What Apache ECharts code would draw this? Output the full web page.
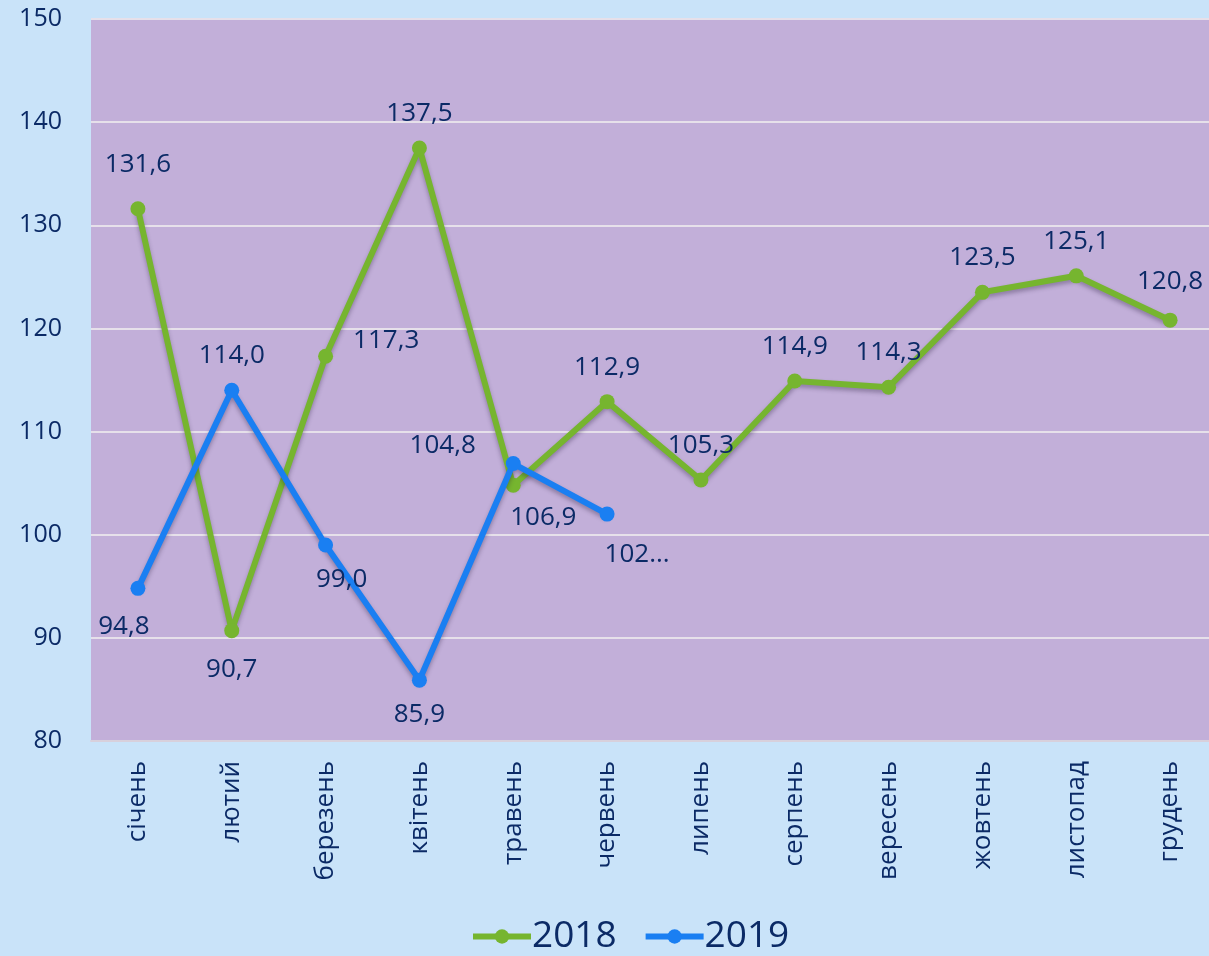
<!DOCTYPE html>
<html>
<head>
<meta charset="utf-8">
<script src="https://cdn.jsdelivr.net/npm/echarts@6/dist/echarts.min.js"></script>
<style>
  html, body { margin: 0; padding: 0; background: #c9e3f9; }
  #main { width: 1209px; height: 956px; }
</style>
</head>
<body>
<div id="main"></div>
<script>
var months = ['січень', 'лютий', 'березень', 'квітень', 'травень', 'червень',
  'липень', 'серпень', 'вересень', 'жовтень', 'листопад', 'грудень'];
var values2018 = [131.6, 90.7, 117.3, 137.5, 104.8, 112.9, 105.3, 114.9, 114.3, 123.5, 125.1, 120.8];
var values2019 = [94.8, 114.0, 99.0, 85.9, 106.9, 102.0];
// where each data label sits, as in the original picture
var labelPos2018 = ['top', 'bottom', 'right', 'top', 'left', 'top', 'top', 'top', 'top', 'top', 'top', 'top'];
var labelPos2019 = ['bottom', 'top', 'bottom', 'bottom', 'bottom', 'bottom'];

var textColor = '#0b2a66';
var fontName = '"Open Sans", sans-serif';

function fmt(v) {
  return v.toFixed(1).replace('.', ',');
}

function buildData(values, positions, offsets) {
  return values.map(function (v, i) {
    var item = { value: v, label: { position: positions[i] } };
    if (offsets[i]) item.label.offset = offsets[i];
    return item;
  });
}

var data2018 = buildData(values2018, labelPos2018, { 1: [0, 4], 2: [6, -16], 4: [-16, -40], 0: [0, -10], 11: [0, -4] });
var data2019 = buildData(values2019, labelPos2019, { 0: [-14, 4], 2: [16, 0], 4: [30, 20], 5: [30, 6] });
// the last 2019 label is cut off in the original
data2019[5].label.formatter = function (p) { return fmt(p.value).slice(0, 3) + '...'; };

var chart = echarts.init(document.getElementById('main'));

var lineShadow = {
  width: 6,
  shadowColor: 'rgba(40,30,60,0.35)',
  shadowBlur: 4,
  shadowOffsetY: 3
};

var option = {
  backgroundColor: '#c9e3f9',
  textStyle: { fontFamily: fontName },
  grid: {
    left: 91,
    width: 1126,
    top: 19,
    bottom: 215,
    outerBoundsMode: 'none',
    show: true,
    backgroundColor: '#c2afd9',
    borderWidth: 0
  },
  legend: {
    bottom: -4,
    left: 465,
    itemWidth: 58,
    itemHeight: 18,
    itemGap: 26,
    lineStyle: { width: 6 },
    textStyle: { color: textColor, fontSize: 37, fontFamily: fontName, padding: [0, 0, 0, -4] },
    data: ['2018', '2019']
  },
  xAxis: {
    type: 'category',
    data: months,
    axisLine: { show: true, lineStyle: { color: '#d8d0dc', width: 2 } },
    axisTick: { show: false },
    axisLabel: {
      rotate: 90,
      margin: 20,
      color: textColor,
      fontSize: 26,
      fontFamily: fontName
    }
  },
  yAxis: {
    type: 'value',
    min: 80,
    max: 150,
    interval: 10,
    axisLine: { show: false },
    axisTick: { show: false },
    axisLabel: { color: textColor, fontSize: 25, margin: 29, fontFamily: fontName },
    splitLine: { lineStyle: { color: '#e6e0ea', width: 2 } }
  },
  series: [
    {
      name: '2018',
      type: 'line',
      data: data2018,
      symbol: 'circle',
      symbolSize: 15,
      color: '#76b52f',
      lineStyle: lineShadow,
      label: {
        show: true,
        distance: 14,
        color: textColor,
        fontSize: 26,
        fontFamily: fontName,
        formatter: function (p) { return fmt(p.value); }
      },
      z: 2
    },
    {
      name: '2019',
      type: 'line',
      data: data2019,
      symbol: 'circle',
      symbolSize: 15,
      color: '#1a7ff2',
      lineStyle: lineShadow,
      label: {
        show: true,
        distance: 14,
        color: textColor,
        fontSize: 26,
        fontFamily: fontName,
        formatter: function (p) { return fmt(p.value); }
      },
      z: 3
    }
  ]
};

chart.setOption(option);
</script>
</body>
</html>
